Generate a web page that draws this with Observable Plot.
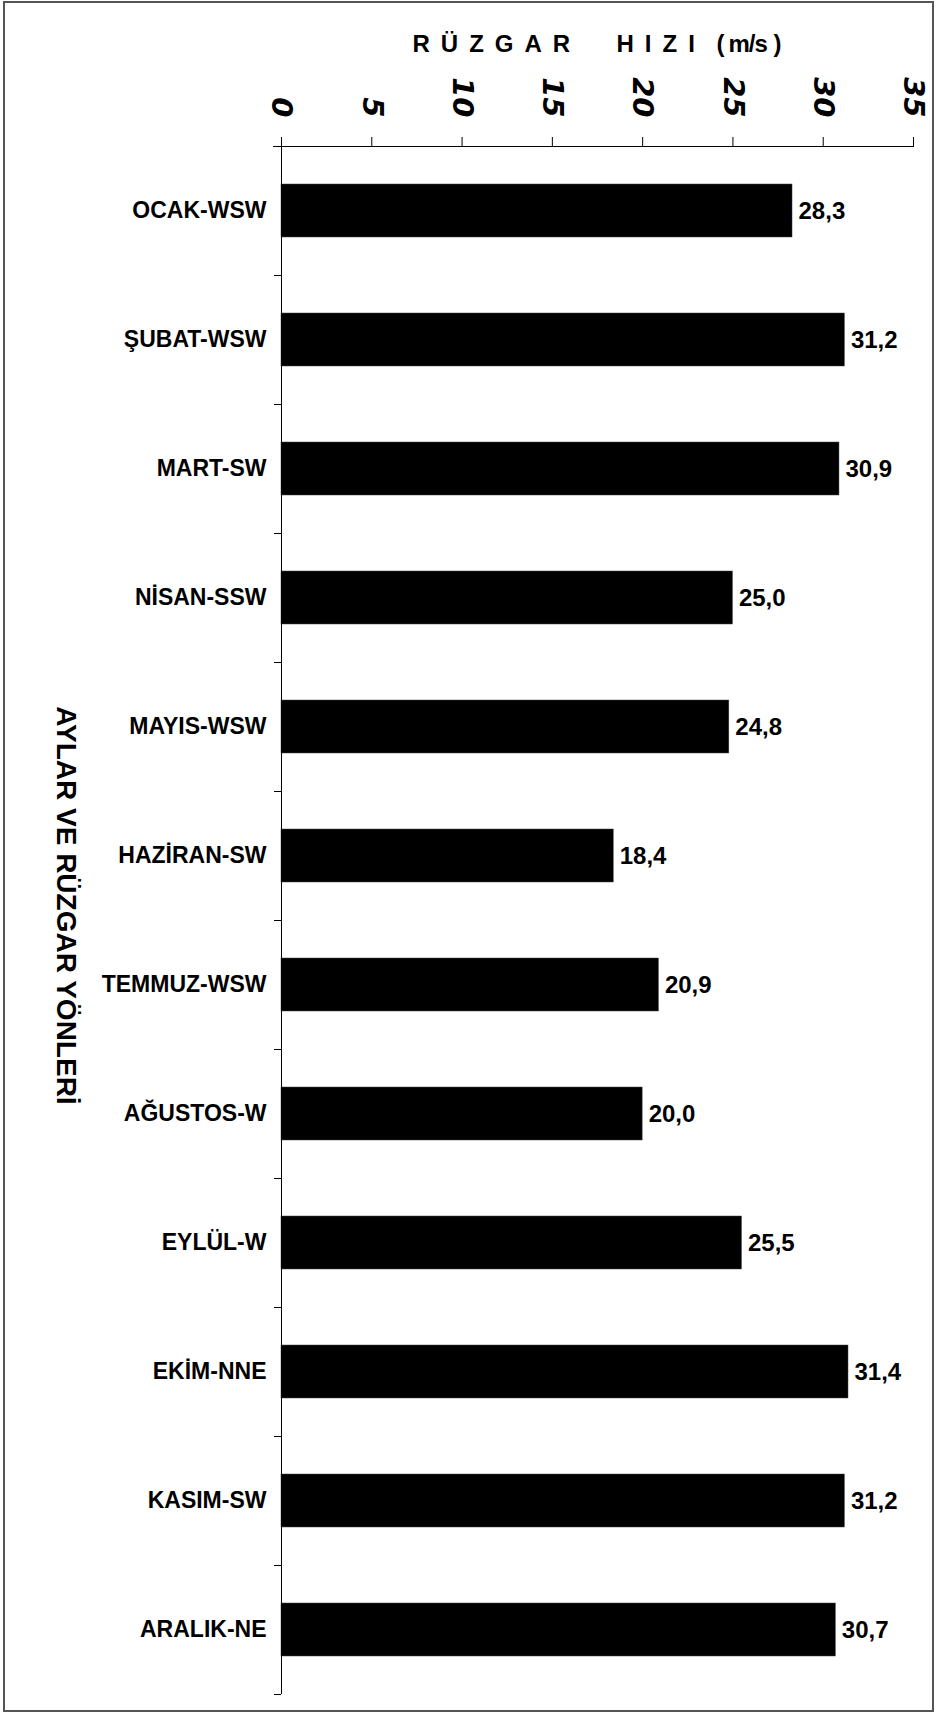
<!DOCTYPE html>
<html>
<head>
<meta charset="utf-8">
<script src="https://cdn.jsdelivr.net/npm/d3@7"></script>
<script src="https://cdn.jsdelivr.net/npm/@observablehq/plot@0.6"></script>
<style>
  html, body { margin: 0; padding: 0; background: #fff; }
  #wrap { position: relative; width: 939px; height: 1713px; overflow: hidden; font-family: "Liberation Sans", Arial, sans-serif; }
  #border { position: absolute; left: 3px; top: 1px; width: 931px; height: 1711px; box-sizing: border-box; border: 2px solid #555; pointer-events: none; }
  #title { height: 60px; box-sizing: border-box; padding-top: 32px; margin-left: 281px; width: 632px; text-align: center; font-size: 24px; line-height: 24px; font-weight: bold; color: #000; white-space: pre; }
  svg { display: block; overflow: visible; }
  g[aria-label="x-axis tick label"] { font-family: "DejaVu Sans", sans-serif; font-size: 29px; font-style: italic; font-weight: bold; }
</style>
</head>
<body>
<div id="wrap">
  <div id="title"><span style="letter-spacing:11px">RÜZGAR  HIZI</span><span style="letter-spacing:4px"> (</span><span style="letter-spacing:-1px">m/s</span><span> )</span></div>
  <div id="chart"></div>
  <div id="border"></div>
</div>
<script>
const categories = ["OCAK-WSW", "ŞUBAT-WSW", "MART-SW", "NİSAN-SSW", "MAYIS-WSW", "HAZİRAN-SW", "TEMMUZ-WSW", "AĞUSTOS-W", "EYLÜL-W", "EKİM-NNE", "KASIM-SW", "ARALIK-NE"];
const speeds = [28.3, 31.2, 30.9, 25.0, 24.8, 18.4, 20.9, 20.0, 25.5, 31.4, 31.2, 30.7];
const xTicks = [0, 5, 10, 15, 20, 25, 30, 35];
const yTitle = "AYLAR VE RÜZGAR YÖNLERİ";

const data = categories.map((c, i) => ({cat: c, value: speeds[i]}));
const fmt = v => v.toFixed(1).replace(".", ",");

const W = 939, H = 1653, mTop = 86, mBottom = 19, mLeft = 281, mRight = 26;
const step = (H - mTop - mBottom) / categories.length;

const chart = Plot.plot({
  width: W,
  height: H,
  marginTop: mTop,
  marginBottom: mBottom,
  marginLeft: mLeft,
  marginRight: mRight,
  style: {fontFamily: "'Liberation Sans', Arial, sans-serif", color: "#000", background: "#fff"},
  x: {domain: [0, 35]},
  y: {domain: categories, paddingInner: 0.59, paddingOuter: 0.295},
  marks: [
    Plot.barX(data, {x: "value", y: "cat", fill: "#000", stroke: "#444", strokeWidth: 0.5}),
    Plot.text(data, {x: "value", y: "cat", text: d => fmt(d.value), textAnchor: "start", dx: 6, fontSize: 24, fontWeight: "bold", fill: "#000"}),
    Plot.ruleX([0], {stroke: "#000", strokeWidth: 1}),
    Plot.frame({anchor: "top", stroke: "#000", strokeWidth: 1, insetLeft: -8}),
    Plot.axisX({anchor: "top", ticks: xTicks, tickSize: 10, tickPadding: 19, tickRotate: 90,
      textAnchor: "end", lineAnchor: "middle", fontSize: 29, fontWeight: "bold", fontStyle: "italic",
      fontFamily: "'DejaVu Sans', sans-serif", label: null, stroke: "#000"}),
    Plot.axisY({anchor: "left", tickSize: 0, tickPadding: 15, fontSize: 23, fontWeight: "bold", label: null}),
    Plot.axisY({anchor: "left", tickSize: 7, text: null, label: null, dy: -step / 2, stroke: "#000"}),
    Plot.axisY({anchor: "left", ticks: [categories[categories.length - 1]], tickSize: 7, text: null, label: null, dy: step / 2, stroke: "#000"}),
    Plot.text([yTitle], {frameAnchor: "left", dx: -216, dy: -15, rotate: 90, textAnchor: "middle", fontSize: 28, fontWeight: "bold", fill: "#000"})
  ]
});
document.getElementById("chart").appendChild(chart);
</script>
</body>
</html>
